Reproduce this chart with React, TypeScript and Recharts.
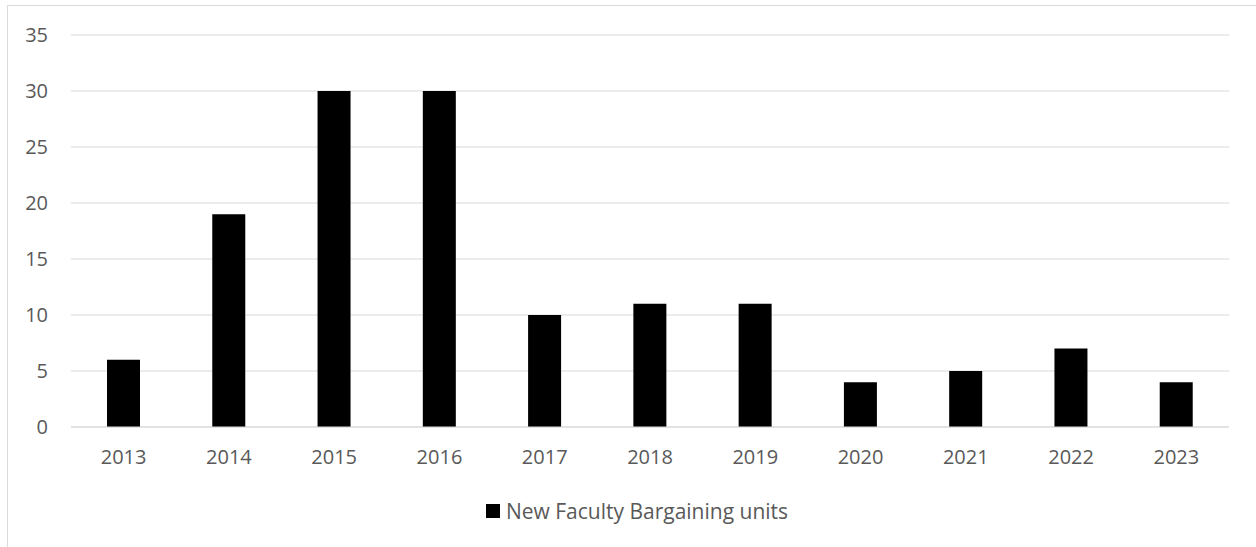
import { BarChart, Bar, XAxis, YAxis, CartesianGrid, Legend } from 'recharts';

const years = ['2013', '2014', '2015', '2016', '2017', '2018', '2019', '2020', '2021', '2022', '2023'];
const newUnits = [6, 19, 30, 30, 10, 11, 11, 4, 5, 7, 4];
const yTicks = [0, 5, 10, 15, 20, 25, 30, 35];

const data = years.map((year, i) => ({ year, units: newUnits[i] }));

const font = '"Open Sans", "DejaVu Sans", sans-serif';
const textColor = '#595959';

function LegendContent() {
  return (
    <div style={{ display: 'flex', justifyContent: 'center', alignItems: 'center', paddingTop: 40, paddingLeft: 34 }}>
      <span style={{ width: 14, height: 14, background: '#000', display: 'inline-block', marginRight: 6 }} />
      <span style={{ fontFamily: font, fontSize: 21, color: textColor }}>New Faculty Bargaining units</span>
    </div>
  );
}

export default function App() {
  return (
    <div style={{ position: 'absolute', left: 0, top: 0, width: 1256, height: 547, overflow: 'hidden', background: '#fff' }}>
      <div
        style={{
          position: 'absolute',
          left: 7,
          top: 5,
          width: 1260,
          height: 600,
          border: '1px solid #d9d9d9',
          boxSizing: 'border-box',
        }}
      />
      <div style={{ position: 'absolute', left: 0, top: 0 }}>
        <BarChart width={1256} height={547} data={data} margin={{ top: 35, right: 27, left: 11, bottom: 0 }}>
          <CartesianGrid vertical={false} stroke="#d9d9d9" strokeWidth={1} />
          <XAxis
            dataKey="year"
            height={30}
            tickLine={false}
            tickSize={0}
            tickMargin={23}
            axisLine={{ stroke: '#d9d9d9' }}
            tick={{ fill: textColor, fontSize: 20, fontFamily: font }}
          />
          <YAxis
            width={60}
            domain={[0, 35]}
            ticks={yTicks}
            axisLine={false}
            tickLine={false}
            tickSize={0}
            tickMargin={23}
            tick={{ fill: textColor, fontSize: 20, fontFamily: font }}
          />
          <Legend verticalAlign="bottom" wrapperStyle={{ height: 90 }} content={<LegendContent />} />
          <Bar dataKey="units" name="New Faculty Bargaining units" fill="#000" barSize={33} isAnimationActive={false} />
        </BarChart>
      </div>
    </div>
  );
}
